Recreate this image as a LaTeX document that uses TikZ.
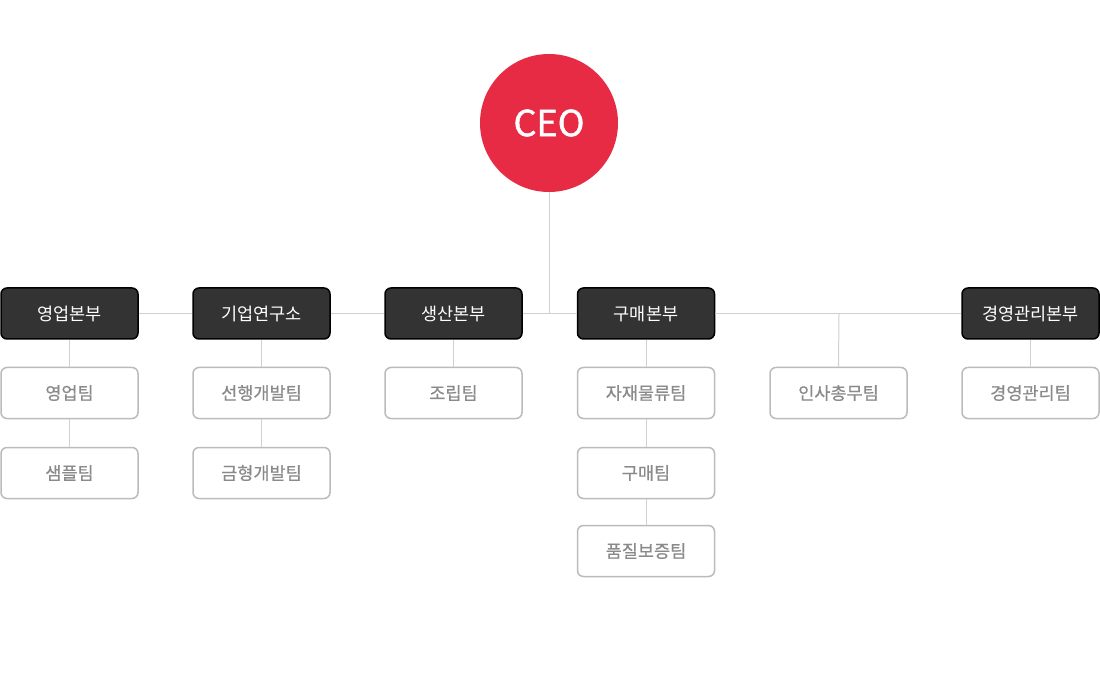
\documentclass[tikz,border=0pt]{standalone}
\usepackage{fontspec}
\setmainfont{Noto Sans CJK KR}
\newfontfamily\ceofont[FakeBold=1.2]{Noto Sans CJK KR}
\newfontfamily\teamfont[FakeBold=0.6]{Noto Sans CJK KR}
\usepackage{tikz}

\definecolor{ceored}{HTML}{E72B45}
\definecolor{headfill}{HTML}{333333}
\definecolor{teamline}{HTML}{BBBBBB}
\definecolor{teamtext}{HTML}{8A8A8A}
\definecolor{linkline}{HTML}{D0D0D0}

\begin{document}
\begin{tikzpicture}[x=1pt,y=-1pt]
        \tikzstyle{head}=[rectangle,rounded corners=6pt,draw=black,line width=1.5pt,fill=headfill,text=white,minimum width=137,minimum height=51,inner sep=0pt,font=\fontsize{17.5}{20}\selectfont]
        \tikzstyle{team}=[rectangle,rounded corners=6pt,draw=teamline,line width=1.5pt,fill=white,text=teamtext,minimum width=137,minimum height=51,inner sep=0pt,font=\teamfont\fontsize{17.5}{20}\selectfont]
        \tikzstyle{link}=[draw=linkline,line width=1pt]
        \useasboundingbox (0,0) rectangle (1100,700);

        % ceo
        \node[circle,fill=ceored,text=white,minimum size=138,inner sep=0pt,font=\ceofont\fontsize{36}{40}\selectfont] (ceo) at (549,123) {CEO};

        % divisions
        \node[head] (sales) at (69.5,313.5) {영업본부};
        \node[head] (lab) at (261.5,313.5) {기업연구소};
        \node[head] (prod) at (453.5,313.5) {생산본부};
        \node[head] (buy) at (646,313.5) {구매본부};
        \node[head] (mgmt) at (1030.5,313.5) {경영관리본부};
        \coordinate (hr) at (839,313.5);

        % teams
        \node[team] (salesteam) at (69.5,393) {영업팀};
        \node[team] (sample) at (69.5,473) {샘플팀};
        \node[team] (advdev) at (261.5,393) {선행개발팀};
        \node[team] (molddev) at (261.5,473) {금형개발팀};
        \node[team] (assy) at (453.5,393) {조립팀};
        \node[team] (logis) at (646,393) {자재물류팀};
        \node[team] (buyteam) at (646,473) {구매팀};
        \node[team] (qa) at (646,551) {품질보증팀};
        \node[team] (hrteam) at (838.5,393) {인사총무팀};
        \node[team] (mgmtteam) at (1030.5,393) {경영관리팀};

        % links
        \path[link] (ceo.south) -- (ceo.south |- prod.east);
        \path[link] (sales.east) -- (lab.west);
        \path[link] (lab.east) -- (prod.west);
        \path[link] (prod.east) -- (buy.west);
        \path[link] (buy.east) -- (mgmt.west);
        \path[link] (hr) -- (hrteam.north);
        \path[link] (sales.south) -- (salesteam.north);
        \path[link] (salesteam.south) -- (sample.north);
        \path[link] (lab.south) -- (advdev.north);
        \path[link] (advdev.south) -- (molddev.north);
        \path[link] (prod.south) -- (assy.north);
        \path[link] (buy.south) -- (logis.north);
        \path[link] (logis.south) -- (buyteam.north);
        \path[link] (buyteam.south) -- (qa.north);
        \path[link] (mgmt.south) -- (mgmtteam.north);
\end{tikzpicture}
\end{document}
